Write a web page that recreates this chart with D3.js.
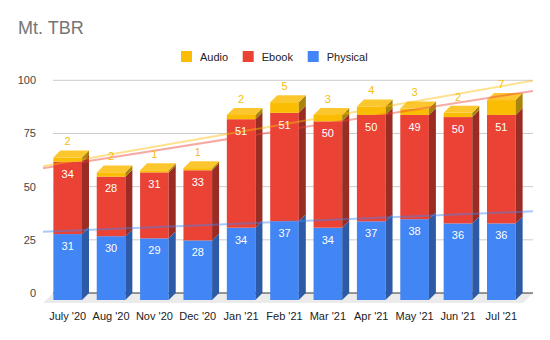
<!DOCTYPE html>
<html>
<head>
<meta charset="utf-8">
<script src="https://cdn.jsdelivr.net/npm/d3@7"></script>
<style>
  html, body { margin: 0; padding: 0; background: #fff; }
  svg { display: block; font-family: "Liberation Sans", Arial, sans-serif; }
</style>
</head>
<body>
<svg id="chart" width="550" height="340"></svg>
<script>
const categories = ["July '20", "Aug '20", "Nov '20", "Dec '20", "Jan '21", "Feb '21", "Mar '21", "Apr '21", "May '21", "Jun '21", "Jul '21"];
const physical = [31, 30, 29, 28, 34, 37, 34, 37, 38, 36, 36];
const ebook    = [34, 28, 31, 33, 51, 51, 50, 50, 49, 50, 51];
const audio    = [2, 2, 1, 1, 2, 5, 3, 4, 3, 2, 7];
const yTicks   = [0, 25, 50, 75, 100];
const seriesNames = ["Physical", "Ebook", "Audio"];
const legendOrder = ["Audio", "Ebook", "Physical"];

const colors = {
  Physical: { front: "#4285f4", side: "#2c5aa6", top: "#5c97f6", trend: "#4285f4", label: "#ffffff" },
  Ebook:    { front: "#ea4335", side: "#9b2c24", top: "#ee5b4f", trend: "#ea4335", label: "#ffffff" },
  Audio:    { front: "#fbbc04", side: "#a8850a", top: "#fcc72e", trend: "#fbbc04", label: "#fbbc04" }
};

const svg = d3.select("#chart");
const D = 7; // bar depth offset
const FD = 10; // floor depth

const rows = categories.map((c, i) => ({ cat: c, Physical: physical[i], Ebook: ebook[i], Audio: audio[i] }));
const stack = d3.stack().keys(seriesNames)(rows);

// front-plane band scale
const x = d3.scaleBand().domain(categories).range([46, 523]).paddingInner(0.34).paddingOuter(0.17);
// back-plane y scale
const y = d3.scaleLinear().domain([0, 100]).range([293, 80.3]);
const yf = v => y(v) + D; // front plane

const backLeft = x.range()[0] + D, backRight = 533;

// Title
svg.append("text").attr("x", 18).attr("y", 34).attr("font-size", 18).attr("fill", "#757575").text("Mt. TBR");

// Legend
const legendX = [181, 242.7, 307.7];
legendOrder.forEach((k, i) => {
  const g = svg.append("g");
  g.append("rect").attr("x", legendX[i]).attr("y", 51).attr("width", 11).attr("height", 11).attr("fill", colors[k].front);
  g.append("text").attr("x", legendX[i] + 19).attr("y", 60.5).attr("font-size", 11).attr("fill", "#222").text(k);
});

// Gridlines (back plane)
svg.append("g").selectAll("line").data(yTicks.filter(t => t > 0)).join("line")
  .attr("x1", backLeft).attr("x2", backRight)
  .attr("y1", d => y(d)).attr("y2", d => y(d))
  .attr("stroke", "#cccccc").attr("stroke-width", 1);

// Floor
svg.append("polygon")
  .attr("points", [[backLeft, y(0)], [backRight, y(0)], [backRight - FD, y(0) + FD], [backLeft - FD, y(0) + FD]].map(p => p.join(",")).join(" "))
  .attr("fill", "#ebebeb");
svg.append("line").attr("x1", backLeft).attr("x2", backRight).attr("y1", y(0)).attr("y2", y(0))
  .attr("stroke", "#333").attr("stroke-width", 1);

// Y axis labels
svg.append("g").selectAll("text").data(yTicks).join("text")
  .attr("x", 36).attr("y", d => y(d)).attr("dy", "0.35em")
  .attr("text-anchor", "end").attr("font-size", 11).attr("fill", "#444")
  .text(d => d);

// Bars
const bw = x.bandwidth();
const barsG = svg.append("g");
categories.forEach((c, i) => {
  const x0 = x(c), x1 = x0 + bw;
  stack.forEach((s, si) => {
    const key = s.key;
    const [v0, v1] = s[i];
    if (v1 - v0 <= 0) return;
    const yt = yf(v1), yb = yf(v0);
    const col = colors[key];
    barsG.append("rect").attr("x", x0).attr("y", yt).attr("width", bw).attr("height", yb - yt).attr("fill", col.front);
    barsG.append("polygon")
      .attr("points", [[x1, yt], [x1 + D, yt - D], [x1 + D, yb - D], [x1, yb]].map(p => p.join(",")).join(" "))
      .attr("fill", col.side);
    if (si === stack.length - 1) {
      barsG.append("polygon")
        .attr("points", [[x0, yt], [x0 + D, yt - D], [x1 + D, yt - D], [x1, yt]].map(p => p.join(",")).join(" "))
        .attr("fill", col.top);
    }
  });
});

// Trendlines on stacked values (back plane)
const step = x.step();
const c0 = x(categories[0]) + bw / 2 + D;
const pxToIdx = px => (px - c0) / step;
stack.forEach(s => {
  const vals = s.map(d => d[1]);
  const n = vals.length;
  const mx = d3.mean(d3.range(n)), my = d3.mean(vals);
  const sxy = d3.sum(vals, (v, i) => (i - mx) * (v - my));
  const sxx = d3.sum(d3.range(n), i => (i - mx) * (i - mx));
  const b = sxy / sxx, a = my - b * mx;
  const xl = backLeft - FD, xr = backRight;
  svg.append("line")
    .attr("x1", xl).attr("y1", y(a + b * pxToIdx(xl)))
    .attr("x2", xr).attr("y2", y(a + b * pxToIdx(xr)))
    .attr("stroke", colors[s.key].trend).attr("stroke-opacity", 0.45).attr("stroke-width", 2);
});

// Data labels
const labelsG = svg.append("g").attr("font-size", 11).attr("text-anchor", "middle");
categories.forEach((c, i) => {
  const cx = x(c) + bw / 2;
  stack.forEach(s => {
    const [v0, v1] = s[i];
    const val = v1 - v0;
    if (s.key === "Audio") {
      labelsG.append("text").attr("x", cx).attr("y", yf(v1) - 16).attr("dy", "0.35em")
        .attr("fill", colors.Audio.label).text(val);
    } else {
      labelsG.append("text").attr("x", cx).attr("y", yf(v1) + 12).attr("dy", "0.35em")
        .attr("fill", colors[s.key].label).text(val);
    }
  });
});

// X axis labels
svg.append("g").selectAll("text").data(categories).join("text")
  .attr("x", d => x(d) + bw / 2).attr("y", 316).attr("dy", "0.35em")
  .attr("text-anchor", "middle").attr("font-size", 11).attr("fill", "#222")
  .text(d => d);
</script>
</body>
</html>
